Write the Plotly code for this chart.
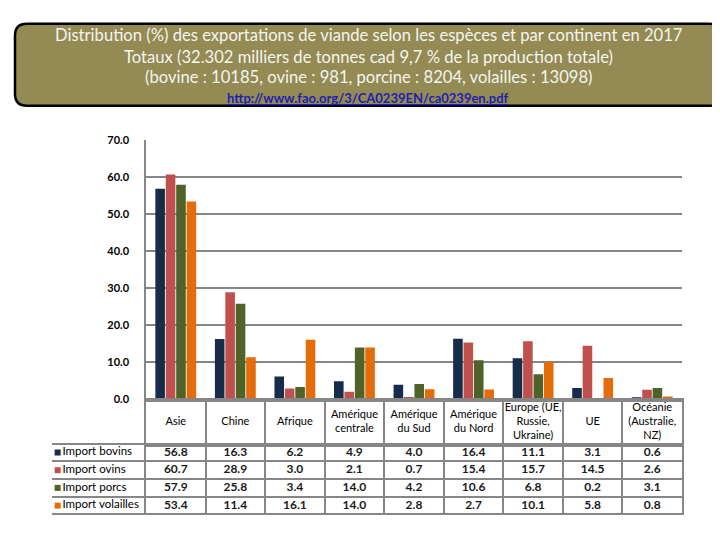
import plotly.graph_objects as go

categories = ["Asie", "Chine", "Afrique", "Amérique centrale", "Amérique du Sud",
              "Amérique du Nord", "Europe (UE, Russie, Ukraine)", "UE",
              "Océanie (Australie, NZ)"]
header_labels = ["Asie", "Chine", "Afrique", "Amérique<br>centrale", "Amérique<br>du Sud",
                 "Amérique<br>du Nord", "Europe (UE,<br>Russie,<br>Ukraine)", "UE",
                 "Océanie<br>(Australie,<br>NZ)"]
series_names = ["Import bovins", "Import ovins", "Import porcs", "Import volailles"]
bovins = [56.8, 16.3, 6.2, 4.9, 4.0, 16.4, 11.1, 3.1, 0.6]
ovins = [60.7, 28.9, 3.0, 2.1, 0.7, 15.4, 15.7, 14.5, 2.6]
porcs = [57.9, 25.8, 3.4, 14.0, 4.2, 10.6, 6.8, 0.2, 3.1]
volailles = [53.4, 11.4, 16.1, 14.0, 2.8, 2.7, 10.1, 5.8, 0.8]
series_values = [bovins, ovins, porcs, volailles]
colors = ["#172B4A", "#C0504D", "#4F6228", "#E46C0A"]

W, H = 720, 540
FONT = "Lato, Liberation Sans, Arial, sans-serif"
GRID = "#868686"

def fx(px):
    return px / W

def fy(py):
    return 1 - py / H

fig = go.Figure()

for name, vals, col in zip(series_names, series_values, colors):
    fig.add_trace(go.Bar(x=categories, y=vals, name=name, marker_color=col,
                         marker_line_width=0, xaxis="x", yaxis="y",
                         showlegend=False, hoverinfo="skip"))

# header row of the data table
fig.add_trace(go.Scatter(x=categories, y=[0] * len(categories), text=header_labels,
                         mode="text", textposition="middle center",
                         textfont=dict(family=FONT, size=11, color="#000000"),
                         xaxis="x2", yaxis="y2", showlegend=False, hoverinfo="skip"))

# data rows
for name, vals in zip(series_names, series_values):
    fig.add_trace(go.Scatter(x=categories, y=[name] * len(categories),
                             text=[f"<b>{v:.1f}</b>" for v in vals],
                             mode="text", textposition="middle center",
                             textfont=dict(family=FONT, size=12, color="#1a1a1a"),
                             xaxis="x3", yaxis="y3", showlegend=False, hoverinfo="skip"))

# legend keys column
fig.add_trace(go.Scatter(x=[0.06] * 4, y=series_names, text=series_names,
                         mode="markers+text", textposition="middle right",
                         marker=dict(symbol="square", size=6, color=colors),
                         textfont=dict(family=FONT, size=11.5, color="#000000"),
                         xaxis="x4", yaxis="y3", showlegend=False, hoverinfo="skip",
                         cliponaxis=False))

x_dom = [fx(138), fx(674)]
fig.update_layout(
    width=W, height=H,
    margin=dict(l=0, r=0, t=0, b=0),
    paper_bgcolor="white", plot_bgcolor="white",
    barmode="group", bargap=0.3, bargroupgap=0.08,
    font=dict(family=FONT, size=12, color="#000000"),
    xaxis=dict(domain=x_dom, anchor="y", showticklabels=False, ticks="",
               showline=True, linecolor=GRID, linewidth=1.5, showgrid=False,
               categoryorder="array", categoryarray=categories),
    yaxis=dict(domain=[fy(394), fy(128)], anchor="x", range=[0, 70], dtick=10,
               tickformat=".1f", showgrid=True, gridcolor=GRID, gridwidth=1.5,
               showline=True, linecolor=GRID, linewidth=1.5, ticks="",
               zeroline=False, ticklabelstandoff=13,
               tickfont=dict(family=FONT, size=11, color="#000000", weight="bold")),
    xaxis2=dict(domain=x_dom, anchor="y2", matches="x", showticklabels=False, ticks="",
                tickson="boundaries", showgrid=True, gridcolor=GRID, gridwidth=1.5,
                showline=True, mirror=True, linecolor=GRID, linewidth=1.5),
    yaxis2=dict(domain=[fy(441), fy(394)], anchor="x2", range=[-1, 1],
                showticklabels=False, ticks="", showgrid=False, zeroline=False,
                showline=True, mirror=True, linecolor=GRID, linewidth=1.5),
    xaxis3=dict(domain=x_dom, anchor="y3", matches="x", showticklabels=False, ticks="",
                tickson="boundaries", showgrid=True, gridcolor=GRID, gridwidth=1.5,
                showline=True, mirror=True, linecolor=GRID, linewidth=1.5),
    yaxis3=dict(domain=[fy(510), fy(441)], anchor="x3", categoryorder="array",
                categoryarray=series_names, autorange="reversed",
                showticklabels=False, ticks="", tickson="boundaries",
                showgrid=True, gridcolor=GRID, gridwidth=1.5,
                showline=True, mirror=True, linecolor=GRID, linewidth=1.5),
    xaxis4=dict(domain=[fx(44), fx(138)], anchor="y3", range=[0, 1],
                showticklabels=False, ticks="", showgrid=False, zeroline=False,
                showline=True, mirror=True, linecolor=GRID, linewidth=1.5),
)

# rounded title box
x0, x1, y0, y1, r = 7, 713, 9, 93, 12
path = (f"M {fx(x0 + r)} {fy(y0)} L {fx(x1 - r)} {fy(y0)} "
        f"Q {fx(x1)} {fy(y0)} {fx(x1)} {fy(y0 + r)} "
        f"L {fx(x1)} {fy(y1 - r)} Q {fx(x1)} {fy(y1)} {fx(x1 - r)} {fy(y1)} "
        f"L {fx(x0 + r)} {fy(y1)} Q {fx(x0)} {fy(y1)} {fx(x0)} {fy(y1 - r)} "
        f"L {fx(x0)} {fy(y0 + r)} Q {fx(x0)} {fy(y0)} {fx(x0 + r)} {fy(y0)} Z")
fig.add_shape(type="path", path=path, xref="paper", yref="paper",
              fillcolor="#948A54", line=dict(color="#000000", width=2.5), layer="below")

title_lines = [
    "Distribution (%) des exportations de viande selon les espèces et par continent en 2017",
    "Totaux (32.302 milliers de tonnes cad 9,7 % de la production totale)",
    "(bovine : 10185, ovine : 981, porcine : 8204, volailles : 13098)",
]
for line, py in zip(title_lines, [20, 43, 64]):
    fig.add_annotation(text=line, x=0.5, y=fy(py), xref="paper", yref="paper",
                       showarrow=False, xanchor="center", yanchor="middle",
                       font=dict(family=FONT, size=16.6, color="#F5F5F0"))
fig.add_annotation(text="<u><b>http://www.fao.org/3/CA0239EN/ca0239en.pdf</b></u>",
                   x=0.5, y=fy(85), xref="paper", yref="paper", showarrow=False,
                   xanchor="center", yanchor="middle",
                   font=dict(family=FONT, size=13, color="#1F1FB0"))

fig.write_html("out.html")
